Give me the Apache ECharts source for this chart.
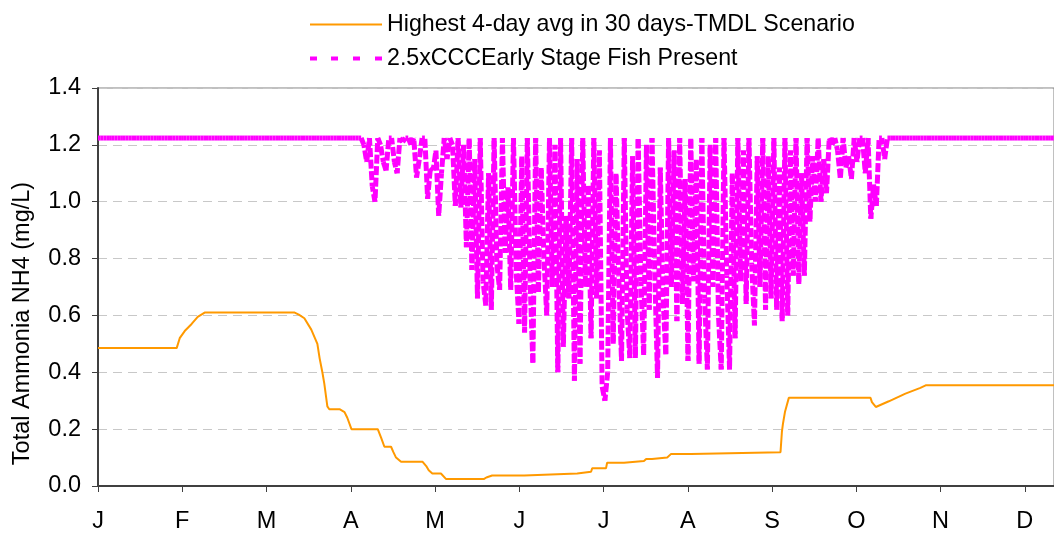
<!DOCTYPE html>
<html>
<head>
<meta charset="utf-8">
<script src="https://cdn.jsdelivr.net/npm/echarts@6/dist/echarts.min.js"></script>
<style>
  html, body { margin: 0; padding: 0; background: #ffffff; }
  #chart { width: 1054px; height: 534px; }
</style>
</head>
<body>
<div id="chart"></div>
<script>
// Month initials for the day-of-year axis
const monthLabels = ['J', 'F', 'M', 'A', 'M', 'J', 'J', 'A', 'S', 'O', 'N', 'D'];
const daysPerMonthTick = 365 / 12;

// Y axis range (mg/L)
const yMin = 0;
const yMax = 1.4;
const yStep = 0.2;

const tmdlName = 'Highest 4-day avg in 30 days-TMDL Scenario';
const criterionName = '2.5xCCCEarly Stage Fish Present';

// Highest 4-day average within 30 days, TMDL scenario: [day of year, mg/L]
const tmdlDays = [
  0, 28.4, 29.5, 31.3, 33.8, 36, 38.5, 71, 72.5, 74.5,
  77, 79.2, 80, 81, 81.7, 82.8, 83.5, 87.2, 89, 90,
  91.5, 101, 102.2, 103.4, 105.8, 106.6, 107.6, 109.4, 117.2, 118.5,
  119.4, 120.7, 123.8, 125.6, 139.4, 140.2, 142.3, 153.9, 154.6, 173,
  173.7, 178, 178.4, 183.4, 183.8, 189.9, 190.6, 197.1, 197.9, 200,
  200.7, 205.5, 206.9, 214.1, 214.4, 246.4, 246.9, 247.3, 248, 249.4,
  278.9, 279.4, 280.8, 285.5, 291.5, 296.9, 298.8, 364
];
const tmdlValues = [
  0.485, 0.485, 0.52, 0.545, 0.57, 0.595, 0.61, 0.61, 0.603, 0.59,
  0.55, 0.50, 0.45, 0.40, 0.36, 0.28, 0.27, 0.27, 0.26, 0.24,
  0.20, 0.20, 0.17, 0.138, 0.138, 0.12, 0.10, 0.085, 0.085, 0.07,
  0.055, 0.044, 0.044, 0.025, 0.025, 0.03, 0.037, 0.037, 0.044, 0.044,
  0.05, 0.05, 0.062, 0.062, 0.082, 0.082, 0.088, 0.088, 0.095, 0.095,
  0.10, 0.10, 0.113, 0.113, 0.119, 0.119, 0.19, 0.22, 0.26, 0.31,
  0.31, 0.295, 0.278, 0.298, 0.325, 0.345, 0.354, 0.354
];

// 2.5 x CCC, early life stages present: one value per day of year (mg/L)
const criterionDaily = [
  // Jan 1 - Apr 5 (days 0-94)
  1.224, 1.224, 1.224, 1.224, 1.224, 1.224, 1.224, 1.224, 1.224, 1.224,
  1.224, 1.224, 1.224, 1.224, 1.224, 1.224, 1.224, 1.224, 1.224, 1.224,
  1.224, 1.224, 1.224, 1.224, 1.224, 1.224, 1.224, 1.224, 1.224, 1.224,
  1.224, 1.224, 1.224, 1.224, 1.224, 1.224, 1.224, 1.224, 1.224, 1.224,
  1.224, 1.224, 1.224, 1.224, 1.224, 1.224, 1.224, 1.224, 1.224, 1.224,
  1.224, 1.224, 1.224, 1.224, 1.224, 1.224, 1.224, 1.224, 1.224, 1.224,
  1.224, 1.224, 1.224, 1.224, 1.224, 1.224, 1.224, 1.224, 1.224, 1.224,
  1.224, 1.224, 1.224, 1.224, 1.224, 1.224, 1.224, 1.224, 1.224, 1.224,
  1.224, 1.224, 1.224, 1.224, 1.224, 1.224, 1.224, 1.224, 1.224, 1.224,
  1.224, 1.224, 1.224, 1.224, 1.224,
  // days 95-130
  1.224, 1.20, 1.14, 1.224, 1.055, 1.00, 1.224, 1.20, 1.14, 1.11,
  1.224, 1.224, 1.14, 1.10, 1.224, 1.21, 1.224, 1.224, 1.20, 1.224,
  1.085, 1.15, 1.224, 1.224, 1.01, 1.12, 1.11, 1.18, 0.95, 1.10,
  1.224, 1.15, 1.224, 1.20, 0.985, 1.224,
  // days 131-240
  0.98, 1.20, 0.84, 1.224, 0.76, 1.15, 0.66, 1.224, 0.72, 0.635,
  1.10, 0.62, 1.224, 0.78, 0.69, 1.224, 0.82, 1.05, 0.69, 1.224,
  0.75, 0.57, 1.16, 0.54, 1.224, 0.72, 0.43, 1.224, 0.68, 1.12,
  0.80, 0.60, 1.224, 0.70, 1.20, 0.40, 1.224, 0.49, 0.95, 0.66,
  1.224, 0.37, 1.15, 0.43, 1.224, 0.70, 1.06, 0.52, 1.224, 0.66,
  1.18, 0.35, 0.30, 0.40, 1.224, 0.50, 1.10, 0.74, 0.44, 1.224,
  0.62, 0.45, 1.16, 0.45, 1.224, 0.72, 0.46, 1.20, 0.62, 1.224,
  0.75, 0.38, 1.12, 0.66, 0.46, 1.224, 0.70, 1.18, 0.58, 1.224,
  0.64, 1.08, 0.44, 1.224, 0.72, 1.15, 0.43, 1.224, 0.66, 0.41,
  1.20, 0.70, 1.224, 0.60, 0.41, 1.224, 0.74, 0.41, 1.10, 0.52,
  1.224, 0.72, 1.18, 0.64, 1.224, 0.78, 0.565, 1.16, 0.70, 1.224,
  // days 241-285
  0.62, 1.16, 0.66, 1.224, 0.62, 1.12, 0.58, 1.224, 0.60, 1.18,
  0.74, 1.224, 0.71, 1.10, 0.74, 1.224, 0.93, 1.16, 1.00, 1.224,
  1.00, 1.15, 1.03, 1.224, 1.20, 1.224, 1.18, 1.08, 1.224, 1.12,
  1.16, 1.08, 1.224, 1.14, 1.224, 1.224, 1.10, 1.224, 0.94, 1.06,
  0.985, 1.224, 1.224, 1.15, 1.224,
  // Oct 14 - Dec 31 (days 286-364)
  1.224, 1.224, 1.224, 1.224, 1.224, 1.224, 1.224, 1.224, 1.224, 1.224,
  1.224, 1.224, 1.224, 1.224, 1.224, 1.224, 1.224, 1.224, 1.224, 1.224,
  1.224, 1.224, 1.224, 1.224, 1.224, 1.224, 1.224, 1.224, 1.224, 1.224,
  1.224, 1.224, 1.224, 1.224, 1.224, 1.224, 1.224, 1.224, 1.224, 1.224,
  1.224, 1.224, 1.224, 1.224, 1.224, 1.224, 1.224, 1.224, 1.224, 1.224,
  1.224, 1.224, 1.224, 1.224, 1.224, 1.224, 1.224, 1.224, 1.224, 1.224,
  1.224, 1.224, 1.224, 1.224, 1.224, 1.224, 1.224, 1.224, 1.224, 1.224,
  1.224, 1.224, 1.224, 1.224, 1.224, 1.224, 1.224, 1.224, 1.224
];

const FONT = "'Liberation Sans', Arial, sans-serif";
const MAGENTA = '#FF00FF';
const ORANGE = '#FF9900';
const AXIS_FONT_SIZE = 23.5;
const DASH = [9, 2.5];
const DASH_PERIOD = DASH[0] + DASH[1];

const chart = echarts.init(document.getElementById('chart'), null, { renderer: 'canvas' });

const monthTickValues = monthLabels.map((_, k) => k * daysPerMonthTick);
// visible range: plot runs from the Jan tick to the right edge of the canvas
const xVisibleMax = 957 / 84.34 * daysPerMonthTick;

// running path length (px) of the dashed criterion line, so the dash phase flows along the polyline
let dashRunLength = [];

const option = {
  animation: false,
  backgroundColor: '#ffffff',
  textStyle: { fontFamily: FONT },
  grid: {
    left: 98, right: -1, top: 88, bottom: 46,
    show: true, borderColor: '#808080', borderWidth: 1, backgroundColor: 'transparent'
  },
  legend: {
    orient: 'vertical',
    left: 305,
    top: 8,
    itemGap: 11,
    itemWidth: 72,
    itemHeight: 5,
    symbolKeepAspect: true,
    textStyle: { fontFamily: FONT, fontSize: 23.2, color: '#000000', lineHeight: 23 },
    data: [
      { name: tmdlName, icon: 'path://M0,0H72V2H0Z' },
      { name: criterionName, icon: 'path://M0,0.5H7V4.5H0Z M21,0.5H28V4.5H21Z M43,0.5H50V4.5H43Z M65,0.5H72V4.5H65Z M0,0V0 M72,5V5' }
    ]
  },
  xAxis: {
    type: 'value',
    min: 0,
    max: xVisibleMax,
    axisLine: { show: true, onZero: false, lineStyle: { color: '#404040', width: 2 } },
    axisTick: { show: true, length: 6, customValues: monthTickValues, lineStyle: { color: '#404040', width: 1 } },
    axisLabel: {
      customValues: monthTickValues,
      margin: 24,
      fontSize: AXIS_FONT_SIZE,
      fontFamily: FONT,
      color: '#000000',
      formatter: (v) => monthLabels[Math.round(v / daysPerMonthTick)] || ''
    },
    splitLine: { show: false }
  },
  yAxis: {
    type: 'value',
    min: yMin,
    max: yMax,
    interval: yStep,
    name: 'Total Ammonia NH4 (mg/L)',
    nameLocation: 'middle',
    nameRotate: 90,
    nameGap: 63,
    nameTextStyle: { fontFamily: FONT, fontSize: AXIS_FONT_SIZE, color: '#000000', padding: [0, 73, 0, 0] },
    axisLine: { show: true, lineStyle: { color: '#404040', width: 2 } },
    axisTick: { show: true, length: 6, lineStyle: { color: '#404040', width: 1 } },
    axisLabel: {
      margin: 17,
      fontSize: AXIS_FONT_SIZE,
      fontFamily: FONT,
      color: '#000000',
      formatter: (v) => v.toFixed(1)
    },
    splitLine: { show: true, lineStyle: { color: '#c8c8c8', width: 1, type: [9, 6] } }
  },
  series: [
    {
      // drawn one day-to-day step at a time: short steps are solid, longer ones dashed
      name: criterionName,
      type: 'custom',
      clip: true,
      itemStyle: { color: MAGENTA },
      data: criterionDaily.map((v, i) => [i, v]),
      encode: { x: 0, y: 1 },
      renderItem: function (params, api) {
        const day = api.value(0);
        if (day === 0) {
          dashRunLength = [0];
          return null;
        }
        const p0 = api.coord([day - 1, criterionDaily[day - 1]]);
        const p1 = api.coord([day, api.value(1)]);
        const segLen = Math.hypot(p1[0] - p0[0], p1[1] - p0[1]);
        const startLen = dashRunLength[day - 1] || 0;
        dashRunLength[day] = startLen + segLen;
        const dashed = segLen > DASH[0];
        return {
          type: 'line',
          shape: { x1: p0[0], y1: p0[1], x2: p1[0], y2: p1[1] },
          style: {
            stroke: MAGENTA,
            lineWidth: 5,
            lineDash: dashed ? DASH : null,
            lineDashOffset: dashed ? (startLen % DASH_PERIOD) : 0,
            lineCap: 'butt',
            fill: null
          }
        };
      },
      z: 2
    },
    {
      name: tmdlName,
      type: 'line',
      symbol: 'none',
      showSymbol: false,
      data: tmdlDays.map((d, i) => [d, tmdlValues[i]]),
      lineStyle: { color: ORANGE, width: 2 },
      itemStyle: { color: ORANGE },
      z: 3
    }
  ]
};

chart.setOption(option);
</script>
</body>
</html>
